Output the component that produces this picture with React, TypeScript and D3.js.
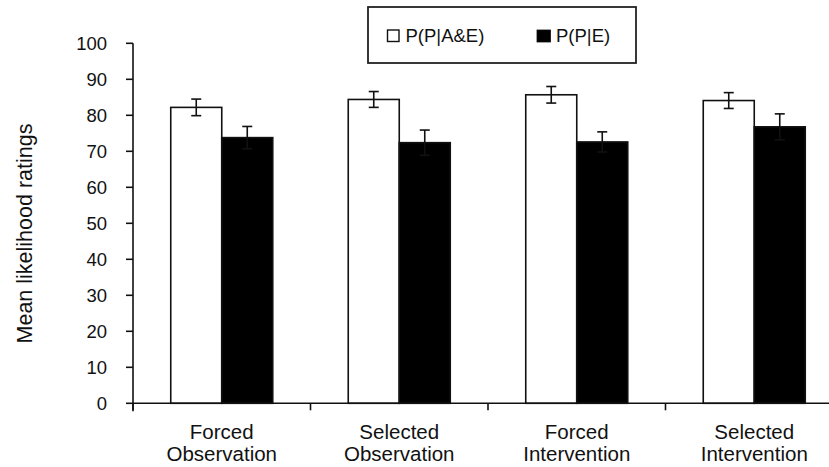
import React from "react";
import * as d3 from "d3";

const categories = [
  ["Forced", "Observation"],
  ["Selected", "Observation"],
  ["Forced", "Intervention"],
  ["Selected", "Intervention"],
];
const seriesNames = ["P(P|A&E)", "P(P|E)"];
const seriesFill = ["#ffffff", "#000000"];
const valuesAE = [82.2, 84.4, 85.7, 84.1];
const errorsAE = [2.3, 2.2, 2.3, 2.2];
const valuesE = [73.8, 72.4, 72.6, 76.8];
const errorsE = [3.1, 3.5, 2.8, 3.6];
const yTicks = [0, 10, 20, 30, 40, 50, 60, 70, 80, 90, 100];

const W = 829;
const H = 467;
const FONT = "'Liberation Sans', Arial, Helvetica, sans-serif";
const INK = "#111";

export default function App() {
  const y = d3.scaleLinear().domain([0, 100]).range([403.3, 43.3]);
  const keys = categories.map((c) => c.join(" "));
  const x0 = d3.scaleBand<string>().domain(keys).range([133, 843]).padding(0);
  const x1 = d3
    .scaleBand<string>()
    .domain(seriesNames)
    .range([0, x0.bandwidth()])
    .paddingInner(0)
    .paddingOuter(0.74);
  const series = [
    { name: seriesNames[0], values: valuesAE, errors: errorsAE, fill: seriesFill[0] },
    { name: seriesNames[1], values: valuesE, errors: errorsE, fill: seriesFill[1] },
  ];
  const capW = 10;
  const xTickPositions = [...keys.map((k) => x0(k)!), 843];

  return (
    <svg
      width={W}
      height={H}
      style={{ position: "absolute", left: 0, top: 0, background: "#fff" }}
      fontFamily={FONT}
    >
      <rect x={0} y={0} width={W} height={H} fill="#fff" />
      {/* bars */}
      {keys.map((k, i) => (
        <g key={k} transform={`translate(${x0(k)},0)`}>
          {series.map((s) => {
            const bx = x1(s.name)!;
            const bw = x1.bandwidth();
            const v = s.values[i];
            const e = s.errors[i];
            const cx = bx + bw / 2;
            return (
              <g key={s.name}>
                <rect
                  x={bx}
                  y={y(v)}
                  width={bw}
                  height={y(0) - y(v)}
                  fill={s.fill}
                  stroke={INK}
                  strokeWidth={1.6}
                />
                <line x1={cx} x2={cx} y1={y(v + e)} y2={y(v - e)} stroke={INK} strokeWidth={1.6} />
                <line x1={cx - capW / 2} x2={cx + capW / 2} y1={y(v + e)} y2={y(v + e)} stroke={INK} strokeWidth={1.6} />
                <line x1={cx - capW / 2} x2={cx + capW / 2} y1={y(v - e)} y2={y(v - e)} stroke={INK} strokeWidth={1.6} />
              </g>
            );
          })}
        </g>
      ))}
      {/* y axis */}
      <line x1={133} x2={133} y1={y(100)} y2={y(0) + 8} stroke={INK} strokeWidth={1.6} />
      {yTicks.map((t) => (
        <g key={t}>
          <line x1={126} x2={133} y1={y(t)} y2={y(t)} stroke={INK} strokeWidth={1.6} />
          <text
            x={107}
            y={y(t)}
            textAnchor="end"
            dominantBaseline="central"
            fontSize={18.5}
            fill={INK}
          >
            {t}
          </text>
        </g>
      ))}
      {/* x axis */}
      <line x1={133} x2={W} y1={y(0)} y2={y(0)} stroke={INK} strokeWidth={1.6} />
      {xTickPositions.map((p, i) => (
        <line key={i} x1={p} x2={p} y1={y(0)} y2={y(0) + 7} stroke={INK} strokeWidth={1.6} />
      ))}
      {keys.map((k, i) => (
        <text key={k} textAnchor="middle" fontSize={20.5} fill={INK}>
          <tspan x={x0(k)! + x0.bandwidth() / 2} y={438.5}>
            {categories[i][0]}
          </tspan>
          <tspan x={x0(k)! + x0.bandwidth() / 2} y={460.5}>
            {categories[i][1]}
          </tspan>
        </text>
      ))}
      {/* y label */}
      <text
        transform={`translate(31.5,233.5) rotate(-90)`}
        textAnchor="middle"
        fontSize={21.5}
        fill={INK}
      >
        Mean likelihood ratings
      </text>
      {/* legend */}
      <rect x={368} y={7} width={268} height={56} fill="#fff" stroke="#222" strokeWidth={1.8} />
      <rect x={387.5} y={30} width={11.5} height={11.5} fill={seriesFill[0]} stroke={INK} strokeWidth={1.4} />
      <text x={405.5} y={42.3} fontSize={18.5} fill={INK}>
        {seriesNames[0]}
      </text>
      <rect x={537} y={30} width={13.5} height={12} fill={seriesFill[1]} stroke={INK} strokeWidth={0.8} />
      <text x={556} y={42.3} fontSize={18.5} fill={INK}>
        {seriesNames[1]}
      </text>
    </svg>
  );
}
